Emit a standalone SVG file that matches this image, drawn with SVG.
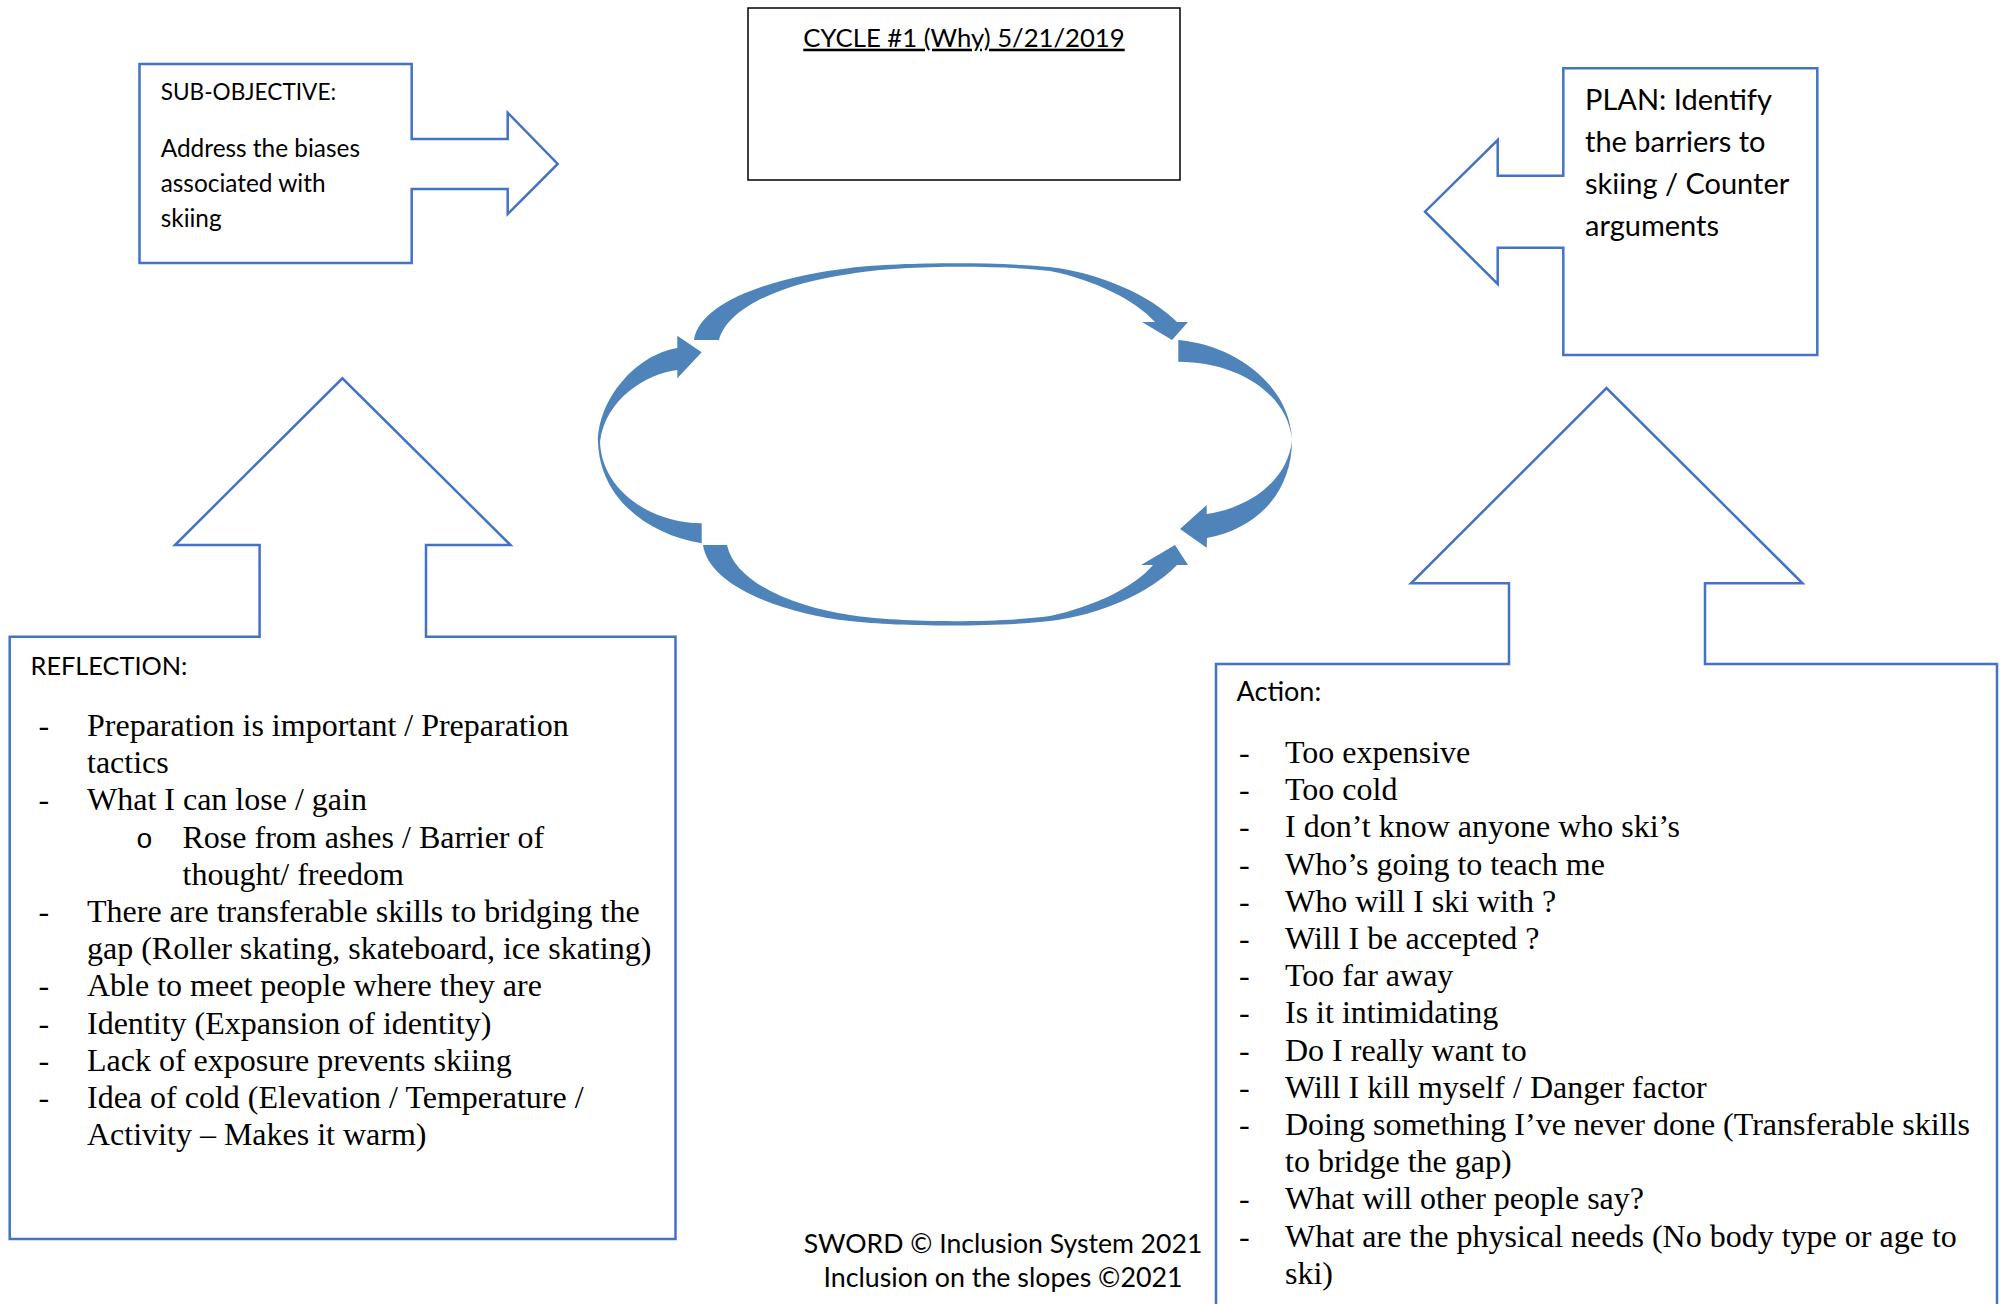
<svg xmlns="http://www.w3.org/2000/svg" width="2001" height="1304" viewBox="0 0 2001 1304">
<style>
.shape{fill:#ffffff;stroke:#4472C4;stroke-width:2.5;stroke-linejoin:miter}
.cal{font-family:Lato,"Open Sans","Liberation Sans",sans-serif;fill:#000}
.tnr{font-family:"Liberation Serif","Times New Roman",serif;font-size:32px;fill:#000}
.cyc{fill:#4F84BA}
</style>
<rect x="0" y="0" width="2001" height="1304" fill="#ffffff"/>

<g id="node-subobjective">
<polygon class="shape" points="139.5,64 411.7,64 411.7,139 507.7,139 507.7,112.7 557.7,164 507.7,214 507.7,189 411.7,189 411.7,263 139.5,263"/>
<text class="cal" font-size="22.6" x="160.7" y="100">SUB-OBJECTIVE:</text>
<text class="cal" font-size="24.4" x="160.7" y="156.5">Address the biases</text>
<text class="cal" font-size="24.4" x="160.7" y="191.5">associated with</text>
<text class="cal" font-size="24.4" x="160.7" y="226.5">skiing</text>
</g>

<g id="node-title">
<rect x="748" y="8" width="432" height="172" fill="#ffffff" stroke="#000" stroke-width="1.5"/>
<text class="cal" font-size="25.7" x="964" y="46.7" text-anchor="middle" text-decoration="underline">CYCLE #1 (Why) 5/21/2019</text>
</g>

<g id="node-plan">
<polygon class="shape" points="1563.3,68.3 1817.3,68.3 1817.3,355 1563.3,355 1563.3,247.7 1497.7,247.7 1497.7,284 1425,211.7 1497.7,140 1497.7,175.7 1563.3,175.7"/>
<text class="cal" font-size="29" x="1585" y="109.5">PLAN: Identify</text>
<text class="cal" font-size="29" x="1585" y="151.5">the barriers to</text>
<text class="cal" font-size="29" x="1585" y="193.5">skiing / Counter</text>
<text class="cal" font-size="29" x="1585" y="235.5">arguments</text>
</g>

<g id="connectors">
<path id="arrow-top" class="cyc" d="M694,340 C700,300 780,276 850,268 C900,262 1000,262 1050,267 C1100,273 1150,295 1177,322 L1188,322 L1172,340 L1142,322 L1155,322 C1135,300 1095,280 1050,271 C1000,265 900,265 850,274 C790,282 728,305 719,340 Z"/>
<path id="arrow-right" class="cyc" d="M1178.3,340 C1235,345 1290,385 1292,440 C1292,490 1260,528 1207,538 L1206.7,547.7 L1180,529 L1206.7,505 L1206.7,514 C1250,508 1288,480 1292,440 C1288,395 1240,362 1178.3,361.7 Z"/>
<path id="arrow-bottom" class="cyc" d="M703,545 C709,587 785,614 850,621 C900,627 1000,627 1050,621 C1100,615 1150,593 1177,565 L1188,565 L1175,545 L1141,565 L1153,565 C1133,588 1095,606 1050,616 C1000,623 900,623 850,615 C795,607 735,583 727,545 Z"/>
<path id="arrow-left" class="cyc" d="M701.7,543.3 C650,535 600,500 598,442 C598,400 635,355 677.3,348 L677.3,335.7 L701.7,352.3 L677.3,378.3 L677.3,370 C645,374 605,400 600,442 C602,490 650,523 701.7,523.3 Z"/>
</g>

<g id="node-reflection">
<polygon class="shape" points="9.7,636.7 259.6,636.7 259.6,545 175,545 342.4,378.3 510.5,545 426,545 426,636.7 675.5,636.7 675.5,1239 9.7,1239"/>
<text class="cal" font-size="25.3" x="30.6" y="675">REFLECTION:</text>
<g class="tnr">
<text x="38.5" y="736">-</text><text x="87" y="736">Preparation is important / Preparation</text>
<text x="87" y="773.2">tactics</text>
<text x="38.5" y="810.4">-</text><text x="87" y="810.4">What I can lose / gain</text>
<text x="136" y="847.6" font-family="'Liberation Mono','Courier New',monospace" font-size="28">o</text><text x="182.5" y="847.6">Rose from ashes / Barrier of</text>
<text x="182.5" y="884.8">thought/ freedom</text>
<text x="38.5" y="922">-</text><text x="87" y="922">There are transferable skills to bridging the</text>
<text x="87" y="959.2">gap (Roller skating, skateboard, ice skating)</text>
<text x="38.5" y="996.4">-</text><text x="87" y="996.4">Able to meet people where they are</text>
<text x="38.5" y="1033.6">-</text><text x="87" y="1033.6">Identity (Expansion of identity)</text>
<text x="38.5" y="1070.8">-</text><text x="87" y="1070.8">Lack of exposure prevents skiing</text>
<text x="38.5" y="1108">-</text><text x="87" y="1108">Idea of cold (Elevation / Temperature /</text>
<text x="87" y="1145.2">Activity – Makes it warm)</text>
</g>
</g>

<g id="node-action">
<polygon class="shape" points="1216,1310 1216,664 1509,664 1509,583.3 1411,583.3 1606.5,388 1802.5,583.3 1705,583.3 1705,664 1997,664 1997,1310"/>
<text class="cal" font-size="27" x="1236.6" y="701">Action:</text>
<g class="tnr">
<text x="1239" y="763">-</text><text x="1285" y="763">Too expensive</text>
<text x="1239" y="800.2">-</text><text x="1285" y="800.2">Too cold</text>
<text x="1239" y="837.4">-</text><text x="1285" y="837.4">I don’t know anyone who ski’s</text>
<text x="1239" y="874.6">-</text><text x="1285" y="874.6">Who’s going to teach me</text>
<text x="1239" y="911.8">-</text><text x="1285" y="911.8">Who will I ski with ?</text>
<text x="1239" y="949">-</text><text x="1285" y="949">Will I be accepted ?</text>
<text x="1239" y="986.2">-</text><text x="1285" y="986.2">Too far away</text>
<text x="1239" y="1023.4">-</text><text x="1285" y="1023.4">Is it intimidating</text>
<text x="1239" y="1060.6">-</text><text x="1285" y="1060.6">Do I really want to</text>
<text x="1239" y="1097.8">-</text><text x="1285" y="1097.8">Will I kill myself / Danger factor</text>
<text x="1239" y="1135">-</text><text x="1285" y="1135">Doing something I’ve never done (Transferable skills</text>
<text x="1285" y="1172.2">to bridge the gap)</text>
<text x="1239" y="1209.4">-</text><text x="1285" y="1209.4">What will other people say?</text>
<text x="1239" y="1246.6">-</text><text x="1285" y="1246.6">What are the physical needs (No body type or age to</text>
<text x="1285" y="1283.8">ski)</text>
</g>
</g>

<g id="node-footer">
<text class="cal" font-size="26.6" x="1003" y="1252.5" text-anchor="middle">SWORD © Inclusion System 2021</text>
<text class="cal" font-size="26.8" x="1003" y="1287" text-anchor="middle">Inclusion on the slopes ©2021</text>
</g>
</svg>
